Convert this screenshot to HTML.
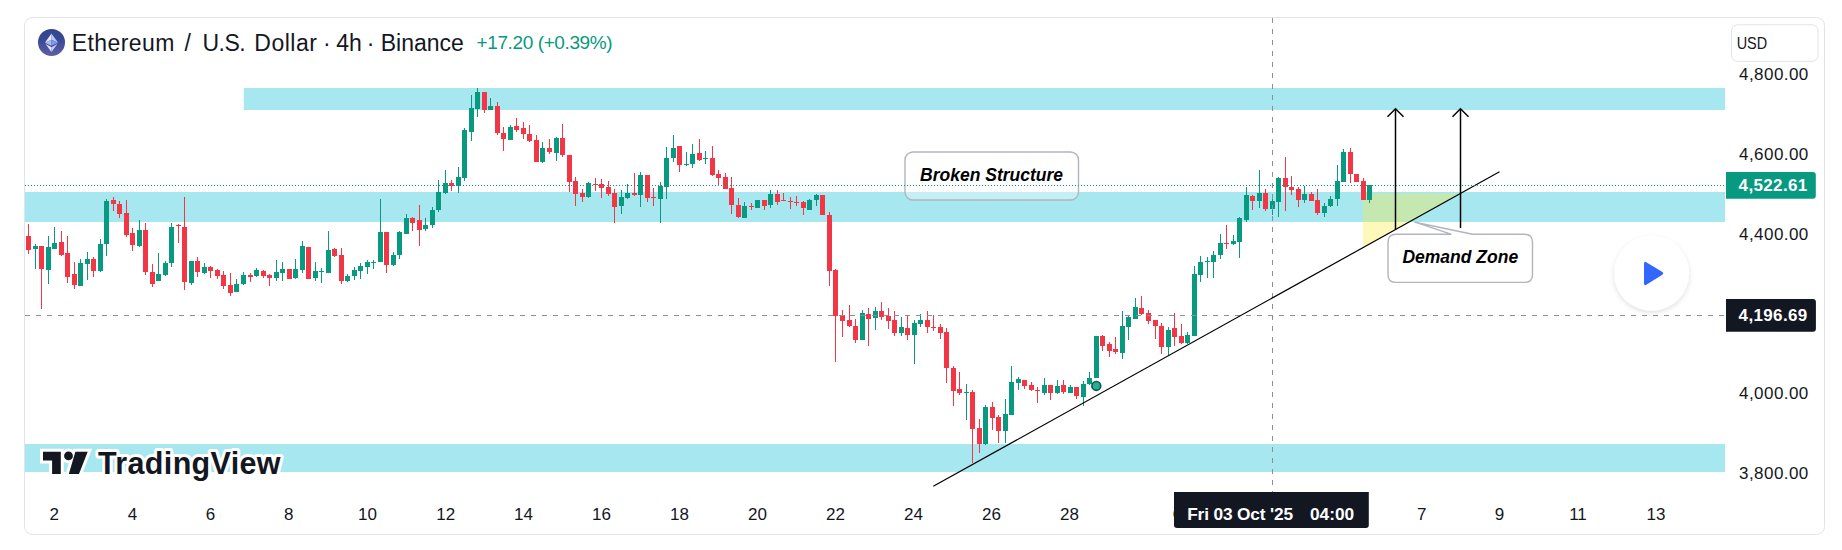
<!DOCTYPE html>
<html><head><meta charset="utf-8"><style>
html,body{margin:0;padding:0;background:#fff;}
body{width:1842px;height:550px;overflow:hidden;}
svg{display:block;font-family:'Liberation Sans', sans-serif;}
</style></head><body>
<svg width="1842" height="550" viewBox="0 0 1842 550">
<defs>
<clipPath id="pane"><rect x="25" y="18" width="1700" height="474"/></clipPath>
<linearGradient id="ethg" x1="0" y1="0" x2="0" y2="1">
<stop offset="0" stop-color="#33458f"/><stop offset="0.35" stop-color="#364894"/><stop offset="1" stop-color="#5d60a7"/></linearGradient>
<filter id="sh" x="-30%" y="-30%" width="160%" height="160%"><feDropShadow dx="0" dy="2" stdDeviation="2.5" flood-color="#000" flood-opacity="0.13"/></filter>
</defs>
<rect x="24.5" y="17.5" width="1800" height="517" rx="8" ry="8" fill="#fff" stroke="#e0e3eb" stroke-width="1"/>
<g clip-path="url(#pane)">
<!-- cyan bands -->
<rect x="243.8" y="88" width="1481.2" height="22" fill="#a6e7f0"/>
<rect x="25" y="192" width="1700" height="30" fill="#a6e7f0"/>
<rect x="25" y="444" width="1700" height="28" fill="#a6e7f0"/>
<!-- yellow triangle -->
<polygon points="1363,193.5 1460.4,193.5 1363,247.6" fill="#ffeb3b" fill-opacity="0.35"/>
<rect x="28" y="224" width="1" height="30" fill="#f23645"/>
<rect x="26" y="236" width="5" height="14" fill="#f23645"/>
<rect x="35" y="244" width="1" height="25" fill="#089981"/>
<rect x="33" y="246" width="5" height="3" fill="#089981"/>
<rect x="41" y="246" width="1" height="63" fill="#f23645"/>
<rect x="39" y="246" width="5" height="23" fill="#f23645"/>
<rect x="48" y="236" width="1" height="48" fill="#089981"/>
<rect x="46" y="247" width="5" height="23" fill="#089981"/>
<rect x="54" y="227" width="1" height="22" fill="#089981"/>
<rect x="52" y="243" width="5" height="6" fill="#089981"/>
<rect x="61" y="231" width="1" height="25" fill="#f23645"/>
<rect x="59" y="242" width="5" height="13" fill="#f23645"/>
<rect x="67" y="236" width="1" height="47" fill="#f23645"/>
<rect x="65" y="253" width="5" height="24" fill="#f23645"/>
<rect x="74" y="262" width="1" height="27" fill="#f23645"/>
<rect x="72" y="274" width="5" height="11" fill="#f23645"/>
<rect x="80" y="259" width="1" height="27" fill="#089981"/>
<rect x="78" y="263" width="5" height="23" fill="#089981"/>
<rect x="87" y="252" width="1" height="28" fill="#089981"/>
<rect x="85" y="259" width="5" height="5" fill="#089981"/>
<rect x="93" y="257" width="1" height="20" fill="#f23645"/>
<rect x="91" y="259" width="5" height="12" fill="#f23645"/>
<rect x="100" y="239" width="1" height="33" fill="#089981"/>
<rect x="98" y="244" width="5" height="27" fill="#089981"/>
<rect x="106" y="199" width="1" height="57" fill="#089981"/>
<rect x="104" y="201" width="5" height="43" fill="#089981"/>
<rect x="113" y="197" width="1" height="14" fill="#f23645"/>
<rect x="111" y="200" width="5" height="4" fill="#f23645"/>
<rect x="119" y="201" width="1" height="17" fill="#f23645"/>
<rect x="117" y="204" width="5" height="10" fill="#f23645"/>
<rect x="126" y="200" width="1" height="37" fill="#f23645"/>
<rect x="124" y="213" width="5" height="22" fill="#f23645"/>
<rect x="132" y="228" width="1" height="23" fill="#f23645"/>
<rect x="130" y="233" width="5" height="12" fill="#f23645"/>
<rect x="139" y="220" width="1" height="27" fill="#089981"/>
<rect x="137" y="230" width="5" height="16" fill="#089981"/>
<rect x="145" y="223" width="1" height="52" fill="#f23645"/>
<rect x="143" y="230" width="5" height="42" fill="#f23645"/>
<rect x="152" y="264" width="1" height="23" fill="#f23645"/>
<rect x="150" y="272" width="5" height="12" fill="#f23645"/>
<rect x="158" y="253" width="1" height="28" fill="#089981"/>
<rect x="156" y="274" width="5" height="7" fill="#089981"/>
<rect x="165" y="261" width="1" height="15" fill="#089981"/>
<rect x="163" y="263" width="5" height="12" fill="#089981"/>
<rect x="171" y="223" width="1" height="44" fill="#089981"/>
<rect x="169" y="227" width="5" height="36" fill="#089981"/>
<rect x="178" y="224" width="1" height="19" fill="#f23645"/>
<rect x="176" y="225" width="5" height="1" fill="#f23645"/>
<rect x="184" y="197" width="1" height="93" fill="#f23645"/>
<rect x="182" y="227" width="5" height="55" fill="#f23645"/>
<rect x="191" y="261" width="1" height="24" fill="#089981"/>
<rect x="189" y="261" width="5" height="22" fill="#089981"/>
<rect x="197" y="257" width="1" height="20" fill="#f23645"/>
<rect x="195" y="261" width="5" height="11" fill="#f23645"/>
<rect x="204" y="263" width="1" height="11" fill="#089981"/>
<rect x="202" y="267" width="5" height="6" fill="#089981"/>
<rect x="210" y="266" width="1" height="12" fill="#f23645"/>
<rect x="208" y="267" width="5" height="4" fill="#f23645"/>
<rect x="217" y="269" width="1" height="10" fill="#f23645"/>
<rect x="215" y="270" width="5" height="6" fill="#f23645"/>
<rect x="223" y="271" width="1" height="18" fill="#f23645"/>
<rect x="221" y="275" width="5" height="11" fill="#f23645"/>
<rect x="230" y="273" width="1" height="23" fill="#f23645"/>
<rect x="228" y="285" width="5" height="8" fill="#f23645"/>
<rect x="236" y="279" width="1" height="13" fill="#089981"/>
<rect x="234" y="284" width="5" height="8" fill="#089981"/>
<rect x="243" y="272" width="1" height="13" fill="#089981"/>
<rect x="241" y="275" width="5" height="9" fill="#089981"/>
<rect x="250" y="273" width="1" height="9" fill="#f23645"/>
<rect x="248" y="275" width="5" height="2" fill="#f23645"/>
<rect x="256" y="268" width="1" height="9" fill="#089981"/>
<rect x="254" y="270" width="5" height="6" fill="#089981"/>
<rect x="263" y="270" width="1" height="8" fill="#f23645"/>
<rect x="261" y="271" width="5" height="5" fill="#f23645"/>
<rect x="269" y="274" width="1" height="12" fill="#f23645"/>
<rect x="267" y="275" width="5" height="3" fill="#f23645"/>
<rect x="276" y="260" width="1" height="21" fill="#089981"/>
<rect x="274" y="272" width="5" height="6" fill="#089981"/>
<rect x="282" y="262" width="1" height="19" fill="#089981"/>
<rect x="280" y="269" width="5" height="4" fill="#089981"/>
<rect x="289" y="269" width="1" height="10" fill="#f23645"/>
<rect x="287" y="269" width="5" height="10" fill="#f23645"/>
<rect x="295" y="259" width="1" height="20" fill="#089981"/>
<rect x="293" y="269" width="5" height="9" fill="#089981"/>
<rect x="302" y="241" width="1" height="32" fill="#089981"/>
<rect x="300" y="246" width="5" height="24" fill="#089981"/>
<rect x="308" y="247" width="1" height="32" fill="#f23645"/>
<rect x="306" y="247" width="5" height="32" fill="#f23645"/>
<rect x="315" y="262" width="1" height="19" fill="#089981"/>
<rect x="313" y="271" width="5" height="7" fill="#089981"/>
<rect x="321" y="268" width="1" height="15" fill="#089981"/>
<rect x="319" y="271" width="5" height="1" fill="#089981"/>
<rect x="328" y="231" width="1" height="42" fill="#089981"/>
<rect x="326" y="250" width="5" height="23" fill="#089981"/>
<rect x="334" y="248" width="1" height="9" fill="#f23645"/>
<rect x="332" y="249" width="5" height="7" fill="#f23645"/>
<rect x="341" y="248" width="1" height="36" fill="#f23645"/>
<rect x="339" y="255" width="5" height="26" fill="#f23645"/>
<rect x="347" y="274" width="1" height="8" fill="#089981"/>
<rect x="345" y="276" width="5" height="5" fill="#089981"/>
<rect x="354" y="267" width="1" height="13" fill="#089981"/>
<rect x="352" y="270" width="5" height="6" fill="#089981"/>
<rect x="360" y="263" width="1" height="16" fill="#089981"/>
<rect x="358" y="266" width="5" height="5" fill="#089981"/>
<rect x="367" y="260" width="1" height="14" fill="#089981"/>
<rect x="365" y="262" width="5" height="5" fill="#089981"/>
<rect x="373" y="260" width="1" height="9" fill="#089981"/>
<rect x="371" y="262" width="5" height="1" fill="#089981"/>
<rect x="380" y="199" width="1" height="63" fill="#089981"/>
<rect x="378" y="232" width="5" height="30" fill="#089981"/>
<rect x="386" y="232" width="1" height="41" fill="#f23645"/>
<rect x="384" y="232" width="5" height="33" fill="#f23645"/>
<rect x="393" y="252" width="1" height="14" fill="#089981"/>
<rect x="391" y="255" width="5" height="10" fill="#089981"/>
<rect x="399" y="231" width="1" height="28" fill="#089981"/>
<rect x="397" y="232" width="5" height="23" fill="#089981"/>
<rect x="406" y="214" width="1" height="20" fill="#089981"/>
<rect x="404" y="218" width="5" height="16" fill="#089981"/>
<rect x="412" y="217" width="1" height="14" fill="#f23645"/>
<rect x="410" y="218" width="5" height="5" fill="#f23645"/>
<rect x="419" y="205" width="1" height="41" fill="#f23645"/>
<rect x="417" y="220" width="5" height="10" fill="#f23645"/>
<rect x="425" y="218" width="1" height="13" fill="#089981"/>
<rect x="423" y="225" width="5" height="4" fill="#089981"/>
<rect x="432" y="207" width="1" height="21" fill="#089981"/>
<rect x="430" y="210" width="5" height="15" fill="#089981"/>
<rect x="438" y="180" width="1" height="32" fill="#089981"/>
<rect x="436" y="192" width="5" height="18" fill="#089981"/>
<rect x="445" y="170" width="1" height="24" fill="#089981"/>
<rect x="443" y="183" width="5" height="10" fill="#089981"/>
<rect x="451" y="180" width="1" height="11" fill="#f23645"/>
<rect x="449" y="183" width="5" height="3" fill="#f23645"/>
<rect x="458" y="167" width="1" height="26" fill="#089981"/>
<rect x="456" y="177" width="5" height="9" fill="#089981"/>
<rect x="464" y="128" width="1" height="53" fill="#089981"/>
<rect x="462" y="130" width="5" height="48" fill="#089981"/>
<rect x="471" y="95" width="1" height="46" fill="#089981"/>
<rect x="469" y="108" width="5" height="24" fill="#089981"/>
<rect x="477" y="88" width="1" height="29" fill="#089981"/>
<rect x="475" y="92" width="5" height="17" fill="#089981"/>
<rect x="484" y="92" width="1" height="21" fill="#f23645"/>
<rect x="482" y="92" width="5" height="18" fill="#f23645"/>
<rect x="490" y="98" width="1" height="12" fill="#089981"/>
<rect x="488" y="106" width="5" height="4" fill="#089981"/>
<rect x="497" y="102" width="1" height="33" fill="#f23645"/>
<rect x="495" y="106" width="5" height="27" fill="#f23645"/>
<rect x="503" y="127" width="1" height="24" fill="#f23645"/>
<rect x="501" y="133" width="5" height="6" fill="#f23645"/>
<rect x="510" y="125" width="1" height="15" fill="#089981"/>
<rect x="508" y="127" width="5" height="13" fill="#089981"/>
<rect x="516" y="118" width="1" height="14" fill="#f23645"/>
<rect x="514" y="126" width="5" height="4" fill="#f23645"/>
<rect x="523" y="122" width="1" height="17" fill="#f23645"/>
<rect x="521" y="128" width="5" height="6" fill="#f23645"/>
<rect x="529" y="125" width="1" height="17" fill="#f23645"/>
<rect x="527" y="134" width="5" height="7" fill="#f23645"/>
<rect x="536" y="135" width="1" height="27" fill="#f23645"/>
<rect x="534" y="140" width="5" height="22" fill="#f23645"/>
<rect x="542" y="142" width="1" height="21" fill="#089981"/>
<rect x="540" y="148" width="5" height="14" fill="#089981"/>
<rect x="549" y="139" width="1" height="15" fill="#f23645"/>
<rect x="547" y="148" width="5" height="4" fill="#f23645"/>
<rect x="556" y="137" width="1" height="24" fill="#089981"/>
<rect x="554" y="138" width="5" height="15" fill="#089981"/>
<rect x="562" y="124" width="1" height="33" fill="#f23645"/>
<rect x="560" y="138" width="5" height="17" fill="#f23645"/>
<rect x="569" y="155" width="1" height="37" fill="#f23645"/>
<rect x="567" y="155" width="5" height="27" fill="#f23645"/>
<rect x="575" y="177" width="1" height="29" fill="#f23645"/>
<rect x="573" y="181" width="5" height="13" fill="#f23645"/>
<rect x="582" y="189" width="1" height="13" fill="#f23645"/>
<rect x="580" y="193" width="5" height="4" fill="#f23645"/>
<rect x="588" y="182" width="1" height="16" fill="#089981"/>
<rect x="586" y="183" width="5" height="14" fill="#089981"/>
<rect x="595" y="178" width="1" height="13" fill="#f23645"/>
<rect x="593" y="184" width="5" height="1" fill="#f23645"/>
<rect x="601" y="179" width="1" height="19" fill="#f23645"/>
<rect x="599" y="184" width="5" height="4" fill="#f23645"/>
<rect x="608" y="181" width="1" height="15" fill="#f23645"/>
<rect x="606" y="187" width="5" height="7" fill="#f23645"/>
<rect x="614" y="189" width="1" height="34" fill="#f23645"/>
<rect x="612" y="193" width="5" height="14" fill="#f23645"/>
<rect x="621" y="190" width="1" height="24" fill="#089981"/>
<rect x="619" y="197" width="5" height="9" fill="#089981"/>
<rect x="627" y="184" width="1" height="15" fill="#089981"/>
<rect x="625" y="193" width="5" height="5" fill="#089981"/>
<rect x="634" y="173" width="1" height="23" fill="#f23645"/>
<rect x="632" y="193" width="5" height="2" fill="#f23645"/>
<rect x="640" y="172" width="1" height="35" fill="#089981"/>
<rect x="638" y="175" width="5" height="20" fill="#089981"/>
<rect x="647" y="175" width="1" height="27" fill="#f23645"/>
<rect x="645" y="175" width="5" height="23" fill="#f23645"/>
<rect x="653" y="188" width="1" height="18" fill="#f23645"/>
<rect x="651" y="197" width="5" height="1" fill="#f23645"/>
<rect x="660" y="182" width="1" height="41" fill="#089981"/>
<rect x="658" y="186" width="5" height="13" fill="#089981"/>
<rect x="666" y="147" width="1" height="52" fill="#089981"/>
<rect x="664" y="158" width="5" height="29" fill="#089981"/>
<rect x="673" y="135" width="1" height="27" fill="#089981"/>
<rect x="671" y="148" width="5" height="10" fill="#089981"/>
<rect x="679" y="146" width="1" height="26" fill="#f23645"/>
<rect x="677" y="146" width="5" height="19" fill="#f23645"/>
<rect x="686" y="152" width="1" height="14" fill="#089981"/>
<rect x="684" y="164" width="5" height="1" fill="#089981"/>
<rect x="692" y="144" width="1" height="24" fill="#089981"/>
<rect x="690" y="154" width="5" height="10" fill="#089981"/>
<rect x="699" y="139" width="1" height="22" fill="#f23645"/>
<rect x="697" y="153" width="5" height="7" fill="#f23645"/>
<rect x="705" y="151" width="1" height="13" fill="#089981"/>
<rect x="703" y="158" width="5" height="1" fill="#089981"/>
<rect x="712" y="146" width="1" height="30" fill="#f23645"/>
<rect x="710" y="158" width="5" height="17" fill="#f23645"/>
<rect x="718" y="170" width="1" height="15" fill="#f23645"/>
<rect x="716" y="174" width="5" height="4" fill="#f23645"/>
<rect x="725" y="173" width="1" height="16" fill="#f23645"/>
<rect x="723" y="177" width="5" height="12" fill="#f23645"/>
<rect x="731" y="177" width="1" height="37" fill="#f23645"/>
<rect x="729" y="188" width="5" height="17" fill="#f23645"/>
<rect x="738" y="198" width="1" height="20" fill="#f23645"/>
<rect x="736" y="205" width="5" height="12" fill="#f23645"/>
<rect x="744" y="202" width="1" height="16" fill="#089981"/>
<rect x="742" y="206" width="5" height="12" fill="#089981"/>
<rect x="751" y="203" width="1" height="7" fill="#f23645"/>
<rect x="749" y="206" width="5" height="1" fill="#f23645"/>
<rect x="757" y="200" width="1" height="8" fill="#089981"/>
<rect x="755" y="200" width="5" height="8" fill="#089981"/>
<rect x="764" y="200" width="1" height="10" fill="#f23645"/>
<rect x="762" y="200" width="5" height="6" fill="#f23645"/>
<rect x="770" y="190" width="1" height="18" fill="#089981"/>
<rect x="768" y="194" width="5" height="11" fill="#089981"/>
<rect x="777" y="190" width="1" height="15" fill="#f23645"/>
<rect x="775" y="194" width="5" height="8" fill="#f23645"/>
<rect x="783" y="193" width="1" height="8" fill="#f23645"/>
<rect x="781" y="200" width="5" height="1" fill="#f23645"/>
<rect x="790" y="197" width="1" height="12" fill="#f23645"/>
<rect x="788" y="201" width="5" height="1" fill="#f23645"/>
<rect x="796" y="196" width="1" height="10" fill="#f23645"/>
<rect x="794" y="202" width="5" height="1" fill="#f23645"/>
<rect x="803" y="201" width="1" height="14" fill="#f23645"/>
<rect x="801" y="202" width="5" height="6" fill="#f23645"/>
<rect x="809" y="199" width="1" height="11" fill="#089981"/>
<rect x="807" y="200" width="5" height="10" fill="#089981"/>
<rect x="816" y="194" width="1" height="12" fill="#089981"/>
<rect x="814" y="195" width="5" height="5" fill="#089981"/>
<rect x="822" y="195" width="1" height="20" fill="#f23645"/>
<rect x="820" y="195" width="5" height="20" fill="#f23645"/>
<rect x="829" y="212" width="1" height="74" fill="#f23645"/>
<rect x="827" y="215" width="5" height="56" fill="#f23645"/>
<rect x="835" y="269" width="1" height="93" fill="#f23645"/>
<rect x="833" y="270" width="5" height="46" fill="#f23645"/>
<rect x="842" y="310" width="1" height="27" fill="#f23645"/>
<rect x="840" y="315" width="5" height="6" fill="#f23645"/>
<rect x="849" y="305" width="1" height="22" fill="#f23645"/>
<rect x="847" y="320" width="5" height="6" fill="#f23645"/>
<rect x="855" y="319" width="1" height="24" fill="#f23645"/>
<rect x="853" y="326" width="5" height="14" fill="#f23645"/>
<rect x="862" y="310" width="1" height="30" fill="#089981"/>
<rect x="860" y="313" width="5" height="27" fill="#089981"/>
<rect x="868" y="308" width="1" height="38" fill="#f23645"/>
<rect x="866" y="314" width="5" height="5" fill="#f23645"/>
<rect x="875" y="307" width="1" height="23" fill="#089981"/>
<rect x="873" y="311" width="5" height="7" fill="#089981"/>
<rect x="881" y="302" width="1" height="18" fill="#f23645"/>
<rect x="879" y="311" width="5" height="6" fill="#f23645"/>
<rect x="888" y="308" width="1" height="21" fill="#f23645"/>
<rect x="886" y="316" width="5" height="5" fill="#f23645"/>
<rect x="894" y="311" width="1" height="25" fill="#f23645"/>
<rect x="892" y="320" width="5" height="13" fill="#f23645"/>
<rect x="901" y="317" width="1" height="19" fill="#089981"/>
<rect x="899" y="327" width="5" height="6" fill="#089981"/>
<rect x="907" y="316" width="1" height="24" fill="#f23645"/>
<rect x="905" y="328" width="5" height="7" fill="#f23645"/>
<rect x="914" y="320" width="1" height="44" fill="#089981"/>
<rect x="912" y="323" width="5" height="12" fill="#089981"/>
<rect x="920" y="314" width="1" height="13" fill="#089981"/>
<rect x="918" y="320" width="5" height="4" fill="#089981"/>
<rect x="927" y="311" width="1" height="22" fill="#f23645"/>
<rect x="925" y="320" width="5" height="7" fill="#f23645"/>
<rect x="933" y="315" width="1" height="16" fill="#f23645"/>
<rect x="931" y="327" width="5" height="1" fill="#f23645"/>
<rect x="940" y="324" width="1" height="15" fill="#f23645"/>
<rect x="938" y="327" width="5" height="6" fill="#f23645"/>
<rect x="946" y="328" width="1" height="55" fill="#f23645"/>
<rect x="944" y="332" width="5" height="36" fill="#f23645"/>
<rect x="953" y="366" width="1" height="40" fill="#f23645"/>
<rect x="951" y="368" width="5" height="23" fill="#f23645"/>
<rect x="959" y="372" width="1" height="23" fill="#f23645"/>
<rect x="957" y="389" width="5" height="4" fill="#f23645"/>
<rect x="966" y="384" width="1" height="36" fill="#089981"/>
<rect x="964" y="392" width="5" height="1" fill="#089981"/>
<rect x="972" y="390" width="1" height="73" fill="#f23645"/>
<rect x="970" y="392" width="5" height="37" fill="#f23645"/>
<rect x="979" y="419" width="1" height="34" fill="#f23645"/>
<rect x="977" y="428" width="5" height="16" fill="#f23645"/>
<rect x="985" y="405" width="1" height="40" fill="#089981"/>
<rect x="983" y="407" width="5" height="37" fill="#089981"/>
<rect x="992" y="402" width="1" height="28" fill="#f23645"/>
<rect x="990" y="407" width="5" height="11" fill="#f23645"/>
<rect x="998" y="415" width="1" height="28" fill="#f23645"/>
<rect x="996" y="417" width="5" height="14" fill="#f23645"/>
<rect x="1005" y="399" width="1" height="44" fill="#089981"/>
<rect x="1003" y="414" width="5" height="17" fill="#089981"/>
<rect x="1011" y="366" width="1" height="49" fill="#089981"/>
<rect x="1009" y="382" width="5" height="33" fill="#089981"/>
<rect x="1018" y="377" width="1" height="13" fill="#089981"/>
<rect x="1016" y="379" width="5" height="4" fill="#089981"/>
<rect x="1024" y="380" width="1" height="9" fill="#f23645"/>
<rect x="1022" y="380" width="5" height="6" fill="#f23645"/>
<rect x="1031" y="382" width="1" height="9" fill="#f23645"/>
<rect x="1029" y="385" width="5" height="5" fill="#f23645"/>
<rect x="1037" y="387" width="1" height="16" fill="#f23645"/>
<rect x="1035" y="390" width="5" height="1" fill="#f23645"/>
<rect x="1044" y="378" width="1" height="17" fill="#089981"/>
<rect x="1042" y="385" width="5" height="8" fill="#089981"/>
<rect x="1050" y="385" width="1" height="15" fill="#f23645"/>
<rect x="1048" y="385" width="5" height="8" fill="#f23645"/>
<rect x="1057" y="380" width="1" height="14" fill="#089981"/>
<rect x="1055" y="386" width="5" height="7" fill="#089981"/>
<rect x="1063" y="380" width="1" height="14" fill="#f23645"/>
<rect x="1061" y="385" width="5" height="7" fill="#f23645"/>
<rect x="1070" y="385" width="1" height="8" fill="#089981"/>
<rect x="1068" y="387" width="5" height="6" fill="#089981"/>
<rect x="1076" y="387" width="1" height="12" fill="#f23645"/>
<rect x="1074" y="387" width="5" height="9" fill="#f23645"/>
<rect x="1083" y="381" width="1" height="25" fill="#089981"/>
<rect x="1081" y="384" width="5" height="13" fill="#089981"/>
<rect x="1089" y="372" width="1" height="13" fill="#089981"/>
<rect x="1087" y="378" width="5" height="6" fill="#089981"/>
<rect x="1096" y="336" width="1" height="42" fill="#089981"/>
<rect x="1094" y="336" width="5" height="42" fill="#089981"/>
<rect x="1102" y="335" width="1" height="16" fill="#f23645"/>
<rect x="1100" y="336" width="5" height="10" fill="#f23645"/>
<rect x="1109" y="342" width="1" height="15" fill="#f23645"/>
<rect x="1107" y="344" width="5" height="7" fill="#f23645"/>
<rect x="1115" y="337" width="1" height="17" fill="#f23645"/>
<rect x="1113" y="349" width="5" height="3" fill="#f23645"/>
<rect x="1122" y="311" width="1" height="48" fill="#089981"/>
<rect x="1120" y="326" width="5" height="27" fill="#089981"/>
<rect x="1128" y="315" width="1" height="25" fill="#089981"/>
<rect x="1126" y="317" width="5" height="10" fill="#089981"/>
<rect x="1135" y="298" width="1" height="21" fill="#089981"/>
<rect x="1133" y="307" width="5" height="12" fill="#089981"/>
<rect x="1141" y="296" width="1" height="19" fill="#f23645"/>
<rect x="1139" y="308" width="5" height="6" fill="#f23645"/>
<rect x="1148" y="310" width="1" height="14" fill="#f23645"/>
<rect x="1146" y="313" width="5" height="8" fill="#f23645"/>
<rect x="1155" y="320" width="1" height="19" fill="#f23645"/>
<rect x="1153" y="320" width="5" height="6" fill="#f23645"/>
<rect x="1161" y="323" width="1" height="31" fill="#f23645"/>
<rect x="1159" y="326" width="5" height="21" fill="#f23645"/>
<rect x="1168" y="327" width="1" height="28" fill="#089981"/>
<rect x="1166" y="330" width="5" height="17" fill="#089981"/>
<rect x="1174" y="313" width="1" height="33" fill="#f23645"/>
<rect x="1172" y="328" width="5" height="9" fill="#f23645"/>
<rect x="1181" y="324" width="1" height="20" fill="#f23645"/>
<rect x="1179" y="336" width="5" height="7" fill="#f23645"/>
<rect x="1187" y="332" width="1" height="12" fill="#089981"/>
<rect x="1185" y="335" width="5" height="8" fill="#089981"/>
<rect x="1194" y="266" width="1" height="70" fill="#089981"/>
<rect x="1192" y="274" width="5" height="62" fill="#089981"/>
<rect x="1200" y="256" width="1" height="26" fill="#089981"/>
<rect x="1198" y="262" width="5" height="13" fill="#089981"/>
<rect x="1207" y="257" width="1" height="21" fill="#089981"/>
<rect x="1205" y="261" width="5" height="1" fill="#089981"/>
<rect x="1213" y="251" width="1" height="27" fill="#089981"/>
<rect x="1211" y="255" width="5" height="7" fill="#089981"/>
<rect x="1220" y="234" width="1" height="25" fill="#089981"/>
<rect x="1218" y="243" width="5" height="12" fill="#089981"/>
<rect x="1226" y="225" width="1" height="24" fill="#f23645"/>
<rect x="1224" y="243" width="5" height="1" fill="#f23645"/>
<rect x="1233" y="235" width="1" height="10" fill="#089981"/>
<rect x="1231" y="241" width="5" height="3" fill="#089981"/>
<rect x="1239" y="217" width="1" height="41" fill="#089981"/>
<rect x="1237" y="218" width="5" height="24" fill="#089981"/>
<rect x="1246" y="187" width="1" height="35" fill="#089981"/>
<rect x="1244" y="195" width="5" height="25" fill="#089981"/>
<rect x="1252" y="195" width="1" height="15" fill="#f23645"/>
<rect x="1250" y="196" width="5" height="5" fill="#f23645"/>
<rect x="1259" y="170" width="1" height="38" fill="#089981"/>
<rect x="1257" y="193" width="5" height="8" fill="#089981"/>
<rect x="1265" y="189" width="1" height="22" fill="#f23645"/>
<rect x="1263" y="193" width="5" height="16" fill="#f23645"/>
<rect x="1272" y="194" width="1" height="21" fill="#089981"/>
<rect x="1270" y="201" width="5" height="8" fill="#089981"/>
<rect x="1278" y="177" width="1" height="40" fill="#089981"/>
<rect x="1276" y="178" width="5" height="24" fill="#089981"/>
<rect x="1285" y="157" width="1" height="54" fill="#f23645"/>
<rect x="1283" y="178" width="5" height="9" fill="#f23645"/>
<rect x="1291" y="176" width="1" height="19" fill="#f23645"/>
<rect x="1289" y="187" width="5" height="3" fill="#f23645"/>
<rect x="1298" y="187" width="1" height="20" fill="#f23645"/>
<rect x="1296" y="189" width="5" height="11" fill="#f23645"/>
<rect x="1304" y="186" width="1" height="17" fill="#089981"/>
<rect x="1302" y="194" width="5" height="6" fill="#089981"/>
<rect x="1311" y="192" width="1" height="9" fill="#f23645"/>
<rect x="1309" y="194" width="5" height="7" fill="#f23645"/>
<rect x="1317" y="189" width="1" height="26" fill="#f23645"/>
<rect x="1315" y="200" width="5" height="13" fill="#f23645"/>
<rect x="1324" y="203" width="1" height="14" fill="#089981"/>
<rect x="1322" y="206" width="5" height="7" fill="#089981"/>
<rect x="1330" y="196" width="1" height="11" fill="#089981"/>
<rect x="1328" y="199" width="5" height="7" fill="#089981"/>
<rect x="1337" y="165" width="1" height="41" fill="#089981"/>
<rect x="1335" y="181" width="5" height="18" fill="#089981"/>
<rect x="1343" y="149" width="1" height="33" fill="#089981"/>
<rect x="1341" y="152" width="5" height="30" fill="#089981"/>
<rect x="1350" y="148" width="1" height="35" fill="#f23645"/>
<rect x="1348" y="152" width="5" height="22" fill="#f23645"/>
<rect x="1356" y="174" width="1" height="8" fill="#f23645"/>
<rect x="1354" y="174" width="5" height="8" fill="#f23645"/>
<rect x="1363" y="178" width="1" height="22" fill="#f23645"/>
<rect x="1361" y="181" width="5" height="19" fill="#f23645"/>
<rect x="1369" y="185" width="1" height="18" fill="#089981"/>
<rect x="1367" y="185" width="5" height="15" fill="#089981"/>
<!-- crosshair -->
<line x1="1272.5" y1="18" x2="1272.5" y2="492" stroke="#8c8f98" stroke-width="1" stroke-dasharray="5 6"/>
<line x1="25" y1="315.5" x2="1725" y2="315.5" stroke="#8c8f98" stroke-width="1" stroke-dasharray="5 6"/>
<!-- trendline -->
<line x1="933.3" y1="486.3" x2="1499.5" y2="171.8" stroke="#000" stroke-width="1.2"/>
<!-- arrows -->
<g stroke="#000" stroke-width="1.5" fill="none">
<line x1="1395.5" y1="229.6" x2="1395.5" y2="109"/>
<polyline points="1387.5,116.7 1395.5,108.7 1403.5,116.7"/>
<line x1="1460.5" y1="228" x2="1460.5" y2="109"/>
<polyline points="1452.5,116.7 1460.5,108.7 1468.5,116.7"/>
</g>
<!-- marker -->
<circle cx="1096.3" cy="385.9" r="4.4" fill="#2aae98" stroke="#0b5e4c" stroke-width="1.7"/>
<!-- Broken Structure callout -->
<rect x="905" y="152" width="173.5" height="48" rx="8" ry="8" fill="#fff" fill-opacity="0.35" stroke="#b2b5be" stroke-width="1.4"/>
<text x="991.6" y="181" font-size="17.5" font-weight="700" font-style="italic" text-anchor="middle" fill="#000">Broken Structure</text>
<!-- Demand Zone callout -->
<path d="M1396,234.2 L1451,234.2 L1415,222.2 L1472.6,234.2 L1524.5,234.2 Q1532.5,234.2 1532.5,242.2 L1532.5,274.4 Q1532.5,282.4 1524.5,282.4 L1396,282.4 Q1388,282.4 1388,274.4 L1388,242.2 Q1388,234.2 1396,234.2 Z" fill="#fff" fill-opacity="0.35" stroke="#b2b5be" stroke-width="1.4" stroke-linejoin="round"/>
<text x="1460.3" y="262.5" font-size="17.5" font-weight="700" font-style="italic" text-anchor="middle" fill="#000">Demand Zone</text>
<!-- last price dotted line -->
<line x1="25" y1="185.5" x2="1725" y2="185.5" stroke="#089981" stroke-width="1" stroke-dasharray="1 2"/>
<!-- play button -->
<circle cx="1651.6" cy="273.2" r="37.5" fill="#fff" filter="url(#sh)"/>
<path d="M1644,263.8 Q1644,260.8 1646.7,262.4 L1662,271.8 Q1664.4,273.4 1662,275 L1646.7,284.6 Q1644,286.2 1644,283.2 Z" fill="#3366ff"/>
<!-- TradingView logo -->
<g stroke="#fff" stroke-width="6" stroke-linejoin="miter" fill="#fff">
<path d="M43,451.7 H60.8 V473.9 H52.1 V460.5 H43 Z"/>
<circle cx="68.5" cy="455.9" r="4.4"/>
<path d="M75.4,451.7 H87.7 L79,473.9 H68.8 Z"/>
<text x="98" y="473.9" font-size="30.5" font-weight="700" stroke-linejoin="round" letter-spacing="0.35">TradingView</text>
</g>
<g fill="#131722">
<path d="M43,451.7 H60.8 V473.9 H52.1 V460.5 H43 Z"/>
<circle cx="68.5" cy="455.9" r="4.4"/>
<path d="M75.4,451.7 H87.7 L79,473.9 H68.8 Z"/>
<text x="98" y="473.9" font-size="30.5" font-weight="700" letter-spacing="0.35">TradingView</text>
</g>
</g>
<!-- header -->
<circle cx="51.5" cy="42.4" r="13.5" fill="url(#ethg)"/>
<path d="M51.5,33.5 L44.9,42.8 L51.5,39.8 Z" fill="#e6ebff"/>
<path d="M51.5,33.5 L58.1,42.8 L51.5,39.8 Z" fill="#b8c5f7"/>
<path d="M44.9,42.8 L51.5,39.8 L51.5,45.7 Z" fill="#a9b8f2"/>
<path d="M58.1,42.8 L51.5,39.8 L51.5,45.7 Z" fill="#7f95e6"/>
<path d="M45.6,44 L51.5,47.3 L51.5,52 Z" fill="#e6ebff"/>
<path d="M57.4,44 L51.5,47.3 L51.5,52 Z" fill="#c2cdf8"/>
<g font-size="23" fill="#131722">
<text x="71.8" y="51" letter-spacing="0.4">Ethereum</text>
<text x="184.5" y="51">/</text>
<text x="202.4" y="51" letter-spacing="-0.5">U.S.</text>
<text x="254.3" y="51" letter-spacing="0.5">Dollar</text>
<text x="322.9" y="51">·</text>
<text x="336.2" y="51">4h</text>
<text x="366.8" y="51">·</text>
<text x="380.7" y="51">Binance</text>
</g>
<text x="476.6" y="48.8" font-size="19" letter-spacing="-0.4" fill="#089981">+17.20 (+0.39%)</text>
<!-- price axis -->
<rect x="1731.5" y="24.8" width="86.5" height="36.5" rx="6" ry="6" fill="#fff" stroke="#e0e3eb" stroke-width="1"/>
<text x="1736.7" y="48.9" font-size="17" fill="#131722" textLength="30.5" lengthAdjust="spacingAndGlyphs">USD</text>
<g font-size="17" fill="#131722" letter-spacing="0.45">
<text x="1739" y="79.9">4,800.00</text>
<text x="1739" y="159.7">4,600.00</text>
<text x="1739" y="239.5">4,400.00</text>
<text x="1739" y="398.7">4,000.00</text>
<text x="1739" y="478.9">3,800.00</text>
</g>
<path d="M1726,172 H1812.8 Q1815.8,172 1815.8,175 V195.7 Q1815.8,198.7 1812.8,198.7 H1726 Z" fill="#089981"/>
<text x="1738.6" y="190.8" font-size="17" font-weight="700" fill="#fff" letter-spacing="0.35">4,522.61</text>
<path d="M1726,299.1 H1812.9 Q1815.9,299.1 1815.9,302.1 V328.8 Q1815.9,331.8 1812.9,331.8 H1726 Z" fill="#131722"/>
<text x="1738.6" y="320.9" font-size="17" font-weight="700" fill="#fff" letter-spacing="0.35">4,196.69</text>
<!-- time axis -->
<g font-size="17" fill="#131722" text-anchor="middle">
<text x="54.25" y="520">2</text>
<text x="132.5" y="520">4</text>
<text x="210.5" y="520">6</text>
<text x="288.75" y="520">8</text>
<text x="367.5" y="520">10</text>
<text x="445.75" y="520">12</text>
<text x="523.5" y="520">14</text>
<text x="601.5" y="520">16</text>
<text x="679.5" y="520">18</text>
<text x="757.5" y="520">20</text>
<text x="835.5" y="520">22</text>
<text x="913.5" y="520">24</text>
<text x="991.5" y="520">26</text>
<text x="1069.5" y="520">28</text>
<text x="1421.7" y="520">7</text>
<text x="1499.5" y="520">9</text>
<text x="1578" y="520">11</text>
<text x="1655.9" y="520">13</text>
<text x="1186.8" y="520" font-weight="700">Oct</text>
</g>
<path d="M1174,492 H1368.8 V525 Q1368.8,528 1365.8,528 H1177 Q1174,528 1174,525 Z" fill="#131722"/>
<text x="1187.2" y="519.9" font-size="17.3" font-weight="700" fill="#fff" letter-spacing="-0.15">Fri 03 Oct '25</text>
<text x="1310" y="519.9" font-size="17.3" font-weight="700" fill="#fff">04:00</text>
</svg>
</body></html>
